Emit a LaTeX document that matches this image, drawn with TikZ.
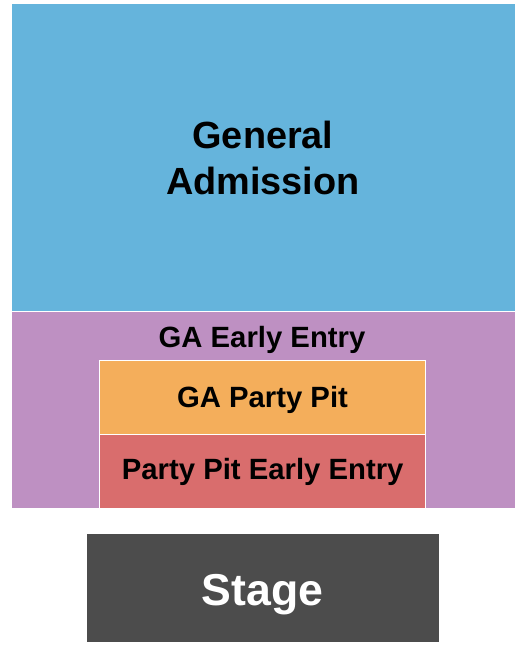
\documentclass[tikz,border=0pt]{standalone}
\usepackage{fontspec}
\setmainfont{Liberation Sans}
\usepackage{tikz}
\usetikzlibrary{positioning}
\definecolor{gablue}{HTML}{65B4DC}
\definecolor{earlypurple}{HTML}{BE90C2}
\definecolor{pitorange}{HTML}{F4AE5B}
\definecolor{pitred}{HTML}{D96D6D}
\definecolor{stagegray}{HTML}{4C4C4C}
\tikzstyle{zone}=[draw=white,line width=1bp]
\tikzstyle{zonelabel}=[font=\bfseries\fontsize{29.4}{35}\selectfont,anchor=base,inner sep=0pt]
\tikzstyle{biglabel}=[font=\bfseries\fontsize{38}{46.5}\selectfont,align=center,inner sep=0pt]

\begin{document}
\begin{tikzpicture}[x=1bp,y=-1bp]

   \useasboundingbox (0,0) rectangle (525,645);

    \foreach \from/\to/\col in {{(11,4)/(515,311.5)/gablue}, {(11,311.5)/(515,508)/earlypurple}, {(99,360)/(425.5,434.3)/pitorange}, {(99,434.3)/(425.5,508)/pitred}}
        \path[zone,fill=\col] \from rectangle \to;

    \fill[stagegray] (87,534) rectangle (439,642);

    \node[biglabel] (galabel) at (263,158) {General\\Admission};
    \node[zonelabel] (earlylabel) at (262,347) {GA Early Entry};
    \node[zonelabel] (pitlabel) at (262.5,407.5) {GA Party Pit};
    \node[zonelabel] (pitearlylabel) at (262.7,479) {Party Pit Early Entry};
    \node[zonelabel,white,font=\bfseries\fontsize{44.8}{52}\selectfont] (stagelabel) at (262.5,605) {Stage};

\end{tikzpicture}
\end{document}
